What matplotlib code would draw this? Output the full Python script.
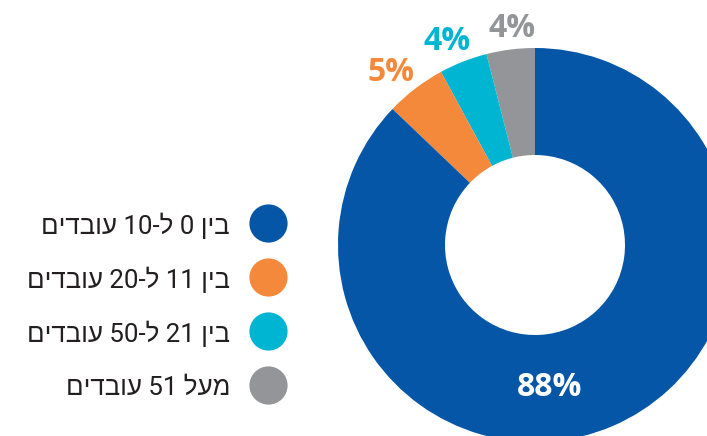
import re
import matplotlib
matplotlib.use("Agg")
from matplotlib import pyplot as plt

# company size groups, in legend order
labels = [
    "בין 0 ל-10 עובדים",
    "בין 11 ל-20 עובדים",
    "בין 21 ל-50 עובדים",
    "מעל 51 עובדים",
]
shares = [88, 5, 4, 4]
colors = ["#0556a6", "#f4893b", "#00b5d1", "#939598"]


def visual(s):
    # matplotlib has no bidi support: flip the string, then put digit runs back
    r = s[::-1]
    return re.sub(r"\d+", lambda m: m.group(0)[::-1], r)


W, H = 707, 436
fig = plt.figure(figsize=(W / 100, H / 100), dpi=100)
ax = fig.add_axes([0, 0, 1, 1])

# pie goes counter-clockwise from the top, so feed it in reverse order
cx, cy, R = 535, H - 245, 197
wedges, _ = ax.pie(shares[::-1], colors=colors[::-1], startangle=90,
                   counterclock=True, center=(cx, cy), radius=R,
                   wedgeprops=dict(width=R - 90, linewidth=0))
ax.set_xlim(0, W)
ax.set_ylim(0, H)
ax.set_aspect("equal")
ax.axis("off")

pct_font = dict(family=["Open Sans", "DejaVu Sans"], weight="bold",
                fontsize=23, ha="center", va="center")
ax.text(550, H - 387, f"{shares[0]}%", color="white", **pct_font)
ax.text(391, H - 72, f"{shares[1]}%", color=colors[1], **pct_font)
ax.text(447, H - 41, f"{shares[2]}%", color=colors[2], **pct_font)
ax.text(512, H - 28, f"{shares[3]}%", color=colors[3], **pct_font)

# legend: text on the left, colour dot on the right
for i, (lab, c) in enumerate(zip(labels, colors)):
    y = H - (223 + 54 * i)
    ax.plot(268, y, ls="", marker="o", markersize=27.5,
            markerfacecolor=c, markeredgecolor="none")
    ax.text(230, y, visual(lab), ha="right", va="center_baseline",
            family=["Roboto", "Liberation Sans"], fontsize=18.6,
            color="#231f20")

fig.savefig("out.png", dpi=100)
